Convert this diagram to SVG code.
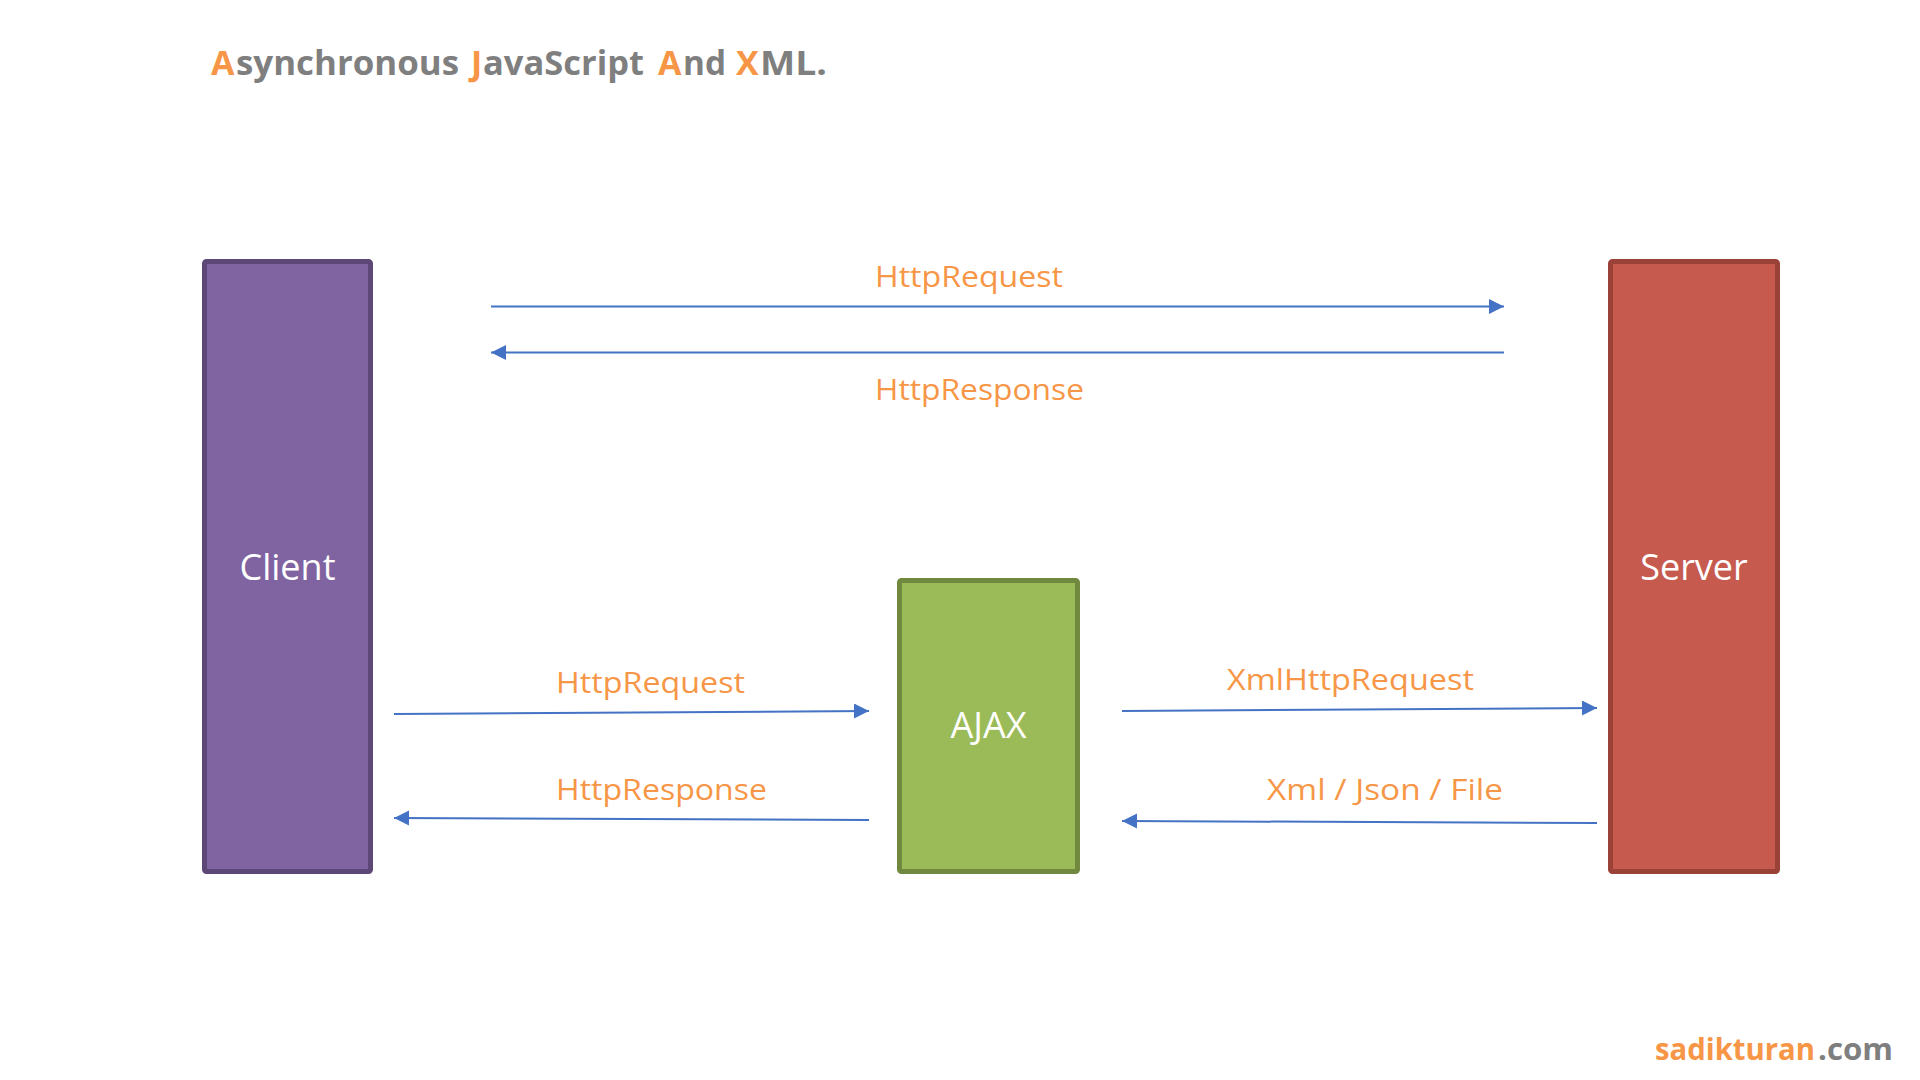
<svg xmlns="http://www.w3.org/2000/svg" width="1920" height="1080" viewBox="0 0 1920 1080">
<style>
.lbl{font-family:"Open Sans","Noto Sans",sans-serif;font-size:29px;fill:#F79646}
.node-text{font-family:"Open Sans","Noto Sans",sans-serif;font-size:36px;fill:#FFFFFF;text-anchor:middle}
.conn{stroke:#4472C4;stroke-width:2;fill:none;marker-end:url(#arrow)}
.title{font-family:"Open Sans","Noto Sans",sans-serif;font-size:34px;font-weight:bold;fill:#7F7F7F}
.or{fill:#F79646}
.brand{font-family:"Open Sans","Noto Sans",sans-serif;font-size:30px;font-weight:bold}
</style>
<defs>
<marker id="arrow" markerUnits="userSpaceOnUse" markerWidth="16" markerHeight="16" refX="15" refY="7.5" orient="auto">
<path d="M0,0 L15,7.5 L0,15 z" fill="#4472C4"/>
</marker>
</defs>
<rect width="1920" height="1080" fill="#FFFFFF"/>
<g id="title">
<text class="title or" x="211" y="75">A</text>
<text class="title" x="236" y="75" textLength="223" lengthAdjust="spacingAndGlyphs">synchronous</text>
<text class="title or" x="471" y="75">J</text>
<text class="title" x="483" y="75" textLength="161" lengthAdjust="spacingAndGlyphs">avaScript</text>
<text class="title or" x="658" y="75">A</text>
<text class="title" x="683" y="75" textLength="43" lengthAdjust="spacingAndGlyphs">nd</text>
<text class="title or" x="736" y="75">X</text>
<text class="title" x="760" y="75" textLength="67" lengthAdjust="spacingAndGlyphs">ML.</text>
</g>
<g id="client">
<rect x="204.5" y="261.5" width="166" height="610" rx="2" fill="#8064A2" stroke="#5C4776" stroke-width="5"/>
<text class="node-text" x="287.5" y="580">Client</text>
</g>
<g id="ajax">
<rect x="899.5" y="580.5" width="178" height="291" rx="2" fill="#9BBB59" stroke="#71893F" stroke-width="5"/>
<text class="node-text" x="988.5" y="738">AJAX</text>
</g>
<g id="server">
<rect x="1610.5" y="261.5" width="167" height="610" rx="2" fill="#C75A4F" stroke="#9B4238" stroke-width="5"/>
<text class="node-text" x="1694" y="580">Server</text>
</g>
<g id="connectors">
<line class="conn" x1="491" y1="306.5" x2="1504" y2="306.5"/>
<line class="conn" x1="1504" y1="352.5" x2="491" y2="352.5"/>
<line class="conn" x1="394" y1="714" x2="869" y2="711"/>
<line class="conn" x1="869" y1="820" x2="394" y2="818"/>
<line class="conn" x1="1122" y1="711" x2="1597" y2="708"/>
<line class="conn" x1="1597" y1="823" x2="1122" y2="821"/>
<text class="lbl" x="875" y="287" textLength="188" lengthAdjust="spacingAndGlyphs">HttpRequest</text>
<text class="lbl" x="875" y="400" textLength="209" lengthAdjust="spacingAndGlyphs">HttpResponse</text>
<text class="lbl" x="556" y="693" textLength="189" lengthAdjust="spacingAndGlyphs">HttpRequest</text>
<text class="lbl" x="556" y="800" textLength="211" lengthAdjust="spacingAndGlyphs">HttpResponse</text>
<text class="lbl" x="1227" y="690" textLength="247" lengthAdjust="spacingAndGlyphs">XmlHttpRequest</text>
<text class="lbl" x="1267" y="800" textLength="236" lengthAdjust="spacingAndGlyphs">Xml / Json / File</text>
</g>
<text class="brand" x="1655" y="1060" textLength="160" lengthAdjust="spacingAndGlyphs" fill="#F79646">sadikturan</text>
<text class="brand" x="1818" y="1060" textLength="75" lengthAdjust="spacingAndGlyphs" fill="#7F7F7F">.com</text>
</svg>
